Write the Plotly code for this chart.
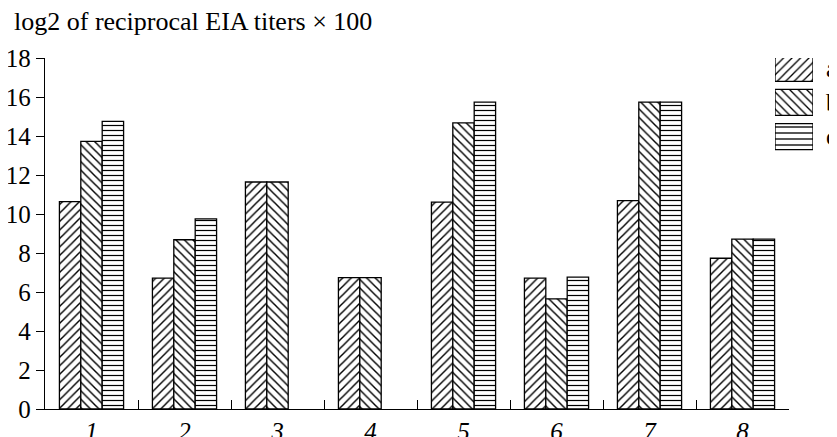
import plotly.graph_objects as go

categories = ["1", "2", "3", "4", "5", "6", "7", "8"]
series_a = [10.63, 6.71, 11.64, 6.74, 10.61, 6.71, 10.69, 7.73]
series_b = [13.72, 8.68, 11.64, 6.74, 14.67, 5.65, 15.74, 8.71]
series_c = [14.75, 9.75, None, None, 15.74, 6.76, 15.74, 8.71]
series_names = ["a", "b", "c"]
patterns = ["/", "\\", "-"]
pattern_sizes = [6, 6, 5]
legend_pattern_sizes = [6, 6, 6]
y_ticks = [0, 2, 4, 6, 8, 10, 12, 14, 16, 18]
y_title = "log2 of reciprocal EIA titers × 100"

FONT = "Liberation Serif"

# The page body adds an 8px offset; figure coordinates below are screen minus 8.
W, H = 829, 429
L, R, T, B = 37, 2, 50, 28
pw = W - L - R
ph = H - T - B
main_right = (781 - L) / pw

fig = go.Figure()
for name, vals, pat, ps in zip(series_names, [series_a, series_b, series_c], patterns, pattern_sizes):
    fig.add_trace(go.Bar(
        x=categories, y=vals, name=name, showlegend=False,
        marker=dict(color="white", line=dict(color="black", width=1.3),
                    pattern=dict(shape=pat, fgcolor="black", bgcolor="white",
                                 size=ps, solidity=0.24, fillmode="replace")),
        xaxis="x", yaxis="y",
    ))

# legend boxes drawn as bars in a small auxiliary axis
for i, (name, pat, ps) in enumerate(zip(series_names, patterns, legend_pattern_sizes)):
    fig.add_trace(go.Bar(
        x=[1], y=[i], orientation="h", width=0.762, showlegend=False, cliponaxis=False,
        marker=dict(color="white", line=dict(color="black", width=1.3),
                    pattern=dict(shape=pat, fgcolor="black", bgcolor="white",
                                 size=ps, solidity=0.22, fillmode="replace")),
        xaxis="x2", yaxis="y2", hoverinfo="skip",
    ))
    fig.add_annotation(text=name, x=(816 - L) / pw, xref="paper", xanchor="left",
                       y=i, yref="y2", yanchor="middle", showarrow=False,
                       font=dict(family=FONT, size=25, color="black"))

fig.update_layout(
    width=W, height=H,
    margin=dict(l=L, r=R, t=T, b=B, autoexpand=False),
    paper_bgcolor="white", plot_bgcolor="white",
    barmode="group", bargap=0.31, bargroupgap=0,
    font=dict(family=FONT, size=25, color="black"),
    xaxis=dict(domain=[0, main_right], type="category", range=[-0.5, 7.5], automargin=False,
               showline=True, linecolor="black", linewidth=1.3,
               ticks="inside", tickson="boundaries", ticklen=9, tickwidth=1.2, tickcolor="black",
               tickfont=dict(family=FONT, size=25, style="italic"),
               showgrid=False, zeroline=False, fixedrange=True),
    yaxis=dict(range=[0, 18], tickvals=y_ticks, automargin=False,
               showline=True, linecolor="black", linewidth=1.3,
               ticks="outside", ticklen=8, tickwidth=1.2, tickcolor="black",
               tickfont=dict(family=FONT, size=25),
               showgrid=False, zeroline=False),
    xaxis2=dict(domain=[(767 - L) / pw, (805 - L) / pw], range=[0, 1], visible=False, anchor="y2"),
    yaxis2=dict(domain=[0.7, 1.0], range=[-0.3035 + 0.3 * ph / 34.1, -0.3035], visible=False, anchor="x2"),
)

fig.add_annotation(text=y_title, x=(4 - L) / pw, xref="paper", xanchor="left",
                   y=(H - B - 14) / ph, yref="paper", yanchor="middle", showarrow=False,
                   font=dict(family=FONT, size=26, color="black"))

fig.write_html("out.html")
